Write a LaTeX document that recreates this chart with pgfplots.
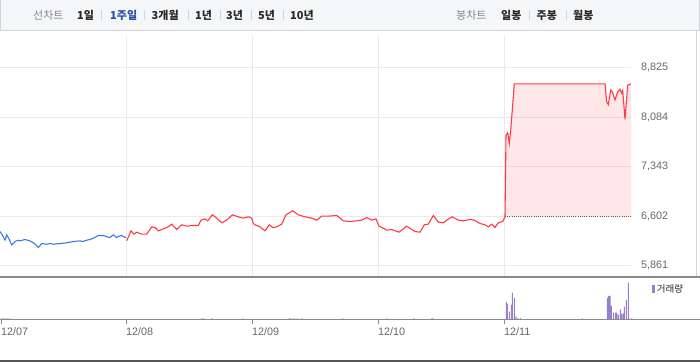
\documentclass[border=0pt]{standalone}
\usepackage{pgfplots}
\pgfplotsset{compat=1.18}
\usepackage{fontspec}
\setmainfont{Liberation Sans}
\newfontfamily\kr{Noto Sans CJK KR}
\definecolor{upred}{RGB}{255,59,70}
\definecolor{downblue}{RGB}{58,124,222}
\definecolor{volc}{RGB}{150,128,204}
\definecolor{gridc}{RGB}{234,234,234}
\definecolor{lblc}{RGB}{102,102,102}
\definecolor{barbg}{RGB}{245,246,248}
\definecolor{barline}{RGB}{210,212,216}
\definecolor{seltab}{RGB}{43,76,170}
\definecolor{sepc}{RGB}{138,138,138}
\definecolor{darkc}{RGB}{85,85,85}
\definecolor{txtc}{RGB}{40,40,40}
\definecolor{mutec}{RGB}{136,136,136}
\begin{document}
\begin{tikzpicture}
\begin{scope}[x=1bp,y=1bp]
% top bar
\fill[barbg] (0,362) rectangle (700,331.5);
\draw[barline, line width=1bp] (0.5,362) -- (0.5,331.5) -- (699.5,331.5) -- (699.5,362);
\begin{scope}[every node/.style={inner sep=0pt, anchor=west}]
\node[text=mutec, font={\kr\fontsize{11bp}{13bp}\selectfont}] at (33,346.5) {선차트};
\node[text=txtc, font={\kr\bfseries\fontsize{11bp}{13bp}\selectfont}] at (77,346.5) {1일};
\node[text=seltab, font={\kr\bfseries\fontsize{11bp}{13bp}\selectfont}] at (110,346.5) {1주일};
\node[text=txtc, font={\kr\bfseries\fontsize{11bp}{13bp}\selectfont}] at (151.5,346.5) {3개월};
\node[text=txtc, font={\kr\bfseries\fontsize{11bp}{13bp}\selectfont}] at (195,346.5) {1년};
\node[text=txtc, font={\kr\bfseries\fontsize{11bp}{13bp}\selectfont}] at (226,346.5) {3년};
\node[text=txtc, font={\kr\bfseries\fontsize{11bp}{13bp}\selectfont}] at (258,346.5) {5년};
\node[text=txtc, font={\kr\bfseries\fontsize{11bp}{13bp}\selectfont}] at (290,346.5) {10년};
\node[text=mutec, font={\kr\fontsize{11bp}{13bp}\selectfont}] at (456,346.5) {봉차트};
\node[text=txtc, font={\kr\bfseries\fontsize{11bp}{13bp}\selectfont}] at (501,346.5) {일봉};
\node[text=txtc, font={\kr\bfseries\fontsize{11bp}{13bp}\selectfont}] at (536.5,346.5) {주봉};
\node[text=txtc, font={\kr\bfseries\fontsize{11bp}{13bp}\selectfont}] at (573,346.5) {월봉};
\end{scope}
\foreach \sx in {101,144,188,220,251,283,529,566} {
  \draw[barline, line width=0.8bp] (\sx,351.5) -- (\sx,341.5);
}
% right border of chart area
\draw[barline, line width=1bp] (696,331.5) -- (696,85);
\end{scope}
% price panel
\begin{axis}[at={(0bp,85bp)}, anchor=south west, width=631bp, height=241bp, scale only axis,
  xmin=0, xmax=631, ymin=5689, ymax=9297,
  axis line style={draw=none},
  xtick={126,252,378,504}, xticklabels={,,,}, xmajorgrids,
  ytick={5861,6602,7343,8084,8825}, ymajorgrids,
  grid style={gridc, line width=0.8bp},
  major tick length=0pt,
  yticklabel pos=right,
  yticklabel style={anchor=west, inner sep=0pt, xshift=10bp, text=lblc, font=\fontsize{10.8bp}{12bp}\selectfont},
  /pgf/number format/fixed, /pgf/number format/precision=0,
  /pgf/number format/1000 sep={,}, /pgf/number format/assume math mode=true]
\addplot[downblue, line width=1.1bp] coordinates {
(0,6370)(1,6350)(3,6300)(5,6240)(6.7,6320)(9,6260)(11.7,6170)(15,6220)(18,6240)(20,6230)
(25,6250)(30,6230)(33.3,6200)(36,6170)(38.3,6130)(41.7,6190)(46.7,6180)(50,6190)(53.3,6180)
(60,6190)(66.7,6200)(70,6210)(73.3,6220)(80,6230)(83,6220)(86.7,6240)(90,6250)(93.3,6270)
(98.3,6310)(103.3,6310)(107,6290)(110,6280)(113.3,6320)(116.7,6280)(119,6300)(121.7,6310)
(124,6290)(126,6280)};
\addplot[upred, line width=1.1bp] coordinates {
(126.7,6230)(131,6380)(134,6330)(136.7,6360)(141.7,6330)(146.7,6330)(151.7,6440)(155,6430)
(158.3,6380)(163.3,6410)(168.3,6440)(171.7,6480)(176.7,6400)(181.7,6470)(186.7,6450)
(191.7,6460)(198.3,6460)(201,6540)(205,6560)(207.7,6530)(212.3,6620)(216.7,6570)(221.7,6500)
(226.7,6540)(232.3,6620)(238.3,6590)(243.3,6570)(248.3,6590)(251.7,6570)(253.3,6490)
(255,6470)(260,6440)(265,6380)(269.3,6470)(272.7,6430)(276.7,6440)(281.7,6480)(286,6620)
(292.7,6680)(298.3,6620)(305,6590)(311.7,6570)(316.7,6540)(321.7,6600)(328.3,6600)
(336.7,6610)(343.3,6530)(350,6520)(356.7,6530)(361.7,6540)(366.7,6580)(371.7,6540)(376,6560)
(379,6450)(383.3,6420)(386.7,6390)(391.7,6400)(399,6360)(406.7,6450)(415,6370)(420,6360)
(424.3,6470)(428.3,6480)(433.3,6610)(438.3,6510)(443.3,6500)(446.7,6540)(452.3,6590)
(458.3,6540)(463.3,6530)(470,6550)(474.3,6540)(480,6490)(485,6470)(488.3,6440)(491.7,6480)
(495,6430)(498.3,6500)(502.7,6520)(505,6590)};
\addplot[draw=none, fill=upred, fill opacity=0.13] coordinates {
(505,6602)(506,7810)(507.7,7850)(509.3,7690)(511,7940)(514.3,8580)(605,8580)(606.7,8310)
(608.3,8270)(610.7,8490)(612.3,8460)(615,8340)(617.7,8460)(620,8500)(621.7,8440)(622.7,8480)
(625,8050)(627.7,8560)(631,8580)(631,6602)};
\addplot[lblc, line width=0.9bp, dash pattern=on 1bp off 1.2bp] coordinates {(505,6602)(631,6602)};
\addplot[upred, line width=1.1bp] coordinates {
(505,6590)(506,7810)(507.7,7850)(509.3,7690)(511,7940)(514.3,8580)(605,8580)(606.7,8310)
(608.3,8270)(610.7,8490)(612.3,8460)(615,8340)(617.7,8460)(620,8500)(621.7,8440)(622.7,8480)
(625,8050)(627.7,8560)(631,8580)};
\end{axis}
% volume panel
\begin{axis}[at={(0bp,42.7bp)}, anchor=south west, width=700bp, height=42.3bp, scale only axis,
  xmin=0, xmax=700, ymin=0, ymax=423,
  axis line style={draw=none},
  ytick=\empty,
  xtick={1,126,252,378,504}, xticklabels={12/07,12/08,12/09,12/10,12/11},
  xtick pos=bottom, xtick align=outside, major tick length=5bp,
  every tick/.style={sepc, line width=1bp},
  xticklabel style={anchor=north west, inner sep=0pt, yshift=-3bp, text=lblc, font=\fontsize{10.8bp}{12bp}\selectfont},
  legend style={at={(axis cs:652,303)}, anchor=west, draw=none, fill=none, inner sep=0pt,
    font={\kr\fontsize{9.5bp}{11bp}\selectfont}, text=txtc},
  legend image code/.code={\fill[volc] (0bp,-3.8bp) rectangle (2.8bp,3.8bp);}]
\addplot[ybar, bar width=1.1bp, draw=none, fill=volc] coordinates {
(2,10)(4,10)(6,10)(8,10)(11,10)(201.7,10)(204,10)(211.7,10)(243,10)(289,10)(291,10)(294,10)
(297,10)(302,10)(343,10)(386.7,10)(414,10)(431.7,10)(433,10)(506.3,173)(507.3,153)(509.3,76)
(511.3,143)(512.3,266)(514.3,213)(516,26)(517.7,10)(520.3,13)(582.3,10)(607.3,213)(608.7,233)
(610,233)(611.3,133)(613.3,66)(615.3,66)(616.7,66)(618.3,43)(620.3,100)(621.7,53)(623.3,60)
(624.3,126)(626.3,193)(628.3,366)(631.7,10)};
\addlegendentry{거래량}
\end{axis}
\begin{scope}[x=1bp,y=1bp]
\draw[sepc, line width=1.2bp] (0,85) -- (700,85);
\draw[sepc, line width=1bp] (0,42.7) -- (700,42.7);
\fill[darkc] (0,0) rectangle (700,2.5);
\end{scope}
\pgfresetboundingbox
\path[use as bounding box] (0bp,0bp) rectangle (700bp,362bp);
\end{tikzpicture}
\end{document}
